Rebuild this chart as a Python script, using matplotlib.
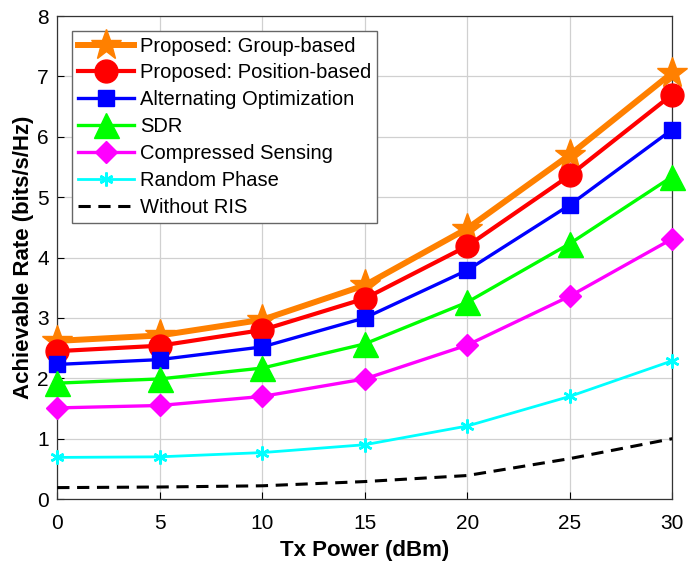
import matplotlib
matplotlib.use("Agg")
import matplotlib.pyplot as plt

plt.rcParams['font.family'] = ['Liberation Sans', 'DejaVu Sans']

tx_power = [0, 5, 10, 15, 20, 25, 30]
group_based = [2.62, 2.71, 2.97, 3.54, 4.48, 5.70, 7.06]
position_based = [2.45, 2.54, 2.80, 3.32, 4.19, 5.36, 6.70]
alt_opt = [2.23, 2.31, 2.52, 3.00, 3.79, 4.87, 6.12]
sdr = [1.92, 1.99, 2.17, 2.57, 3.26, 4.23, 5.34]
compressed = [1.51, 1.55, 1.70, 1.99, 2.55, 3.36, 4.31]
random_phase = [0.69, 0.70, 0.77, 0.90, 1.21, 1.70, 2.29]
without_ris = [0.19, 0.20, 0.22, 0.29, 0.39, 0.67, 1.00]

fig = plt.figure(figsize=(6.98, 5.73), dpi=100)
ax = fig.add_axes([0.082, 0.129, 0.881, 0.843])

ax.plot(tx_power, group_based, '-*', color='#FF8000', lw=4.3, ms=23, clip_on=False,
        label='Proposed: Group-based', zorder=3)
ax.plot(tx_power, position_based, '-o', color='#FF0000', lw=3.0, ms=16.5, clip_on=False,
        label='Proposed: Position-based', zorder=3)
ax.plot(tx_power, alt_opt, '-s', color='#0000FF', lw=2.4, ms=12, clip_on=False,
        label='Alternating Optimization', zorder=3)
ax.plot(tx_power, sdr, '-^', color='#00FF00', lw=2.4, ms=18, clip_on=False,
        label='SDR', zorder=3)
ax.plot(tx_power, compressed, '-D', color='#FF00FF', lw=2.4, ms=11.5, clip_on=False,
        label='Compressed Sensing', zorder=3)
ax.plot(tx_power, random_phase, color='#00FFFF', lw=2, ms=10, markeredgewidth=1.8,
        marker=(6, 2, 0), clip_on=False, label='Random Phase', zorder=3)
ax.plot(tx_power, without_ris, '--', color='black', lw=2.2, dashes=(4, 2.5),
        label='Without RIS', zorder=3)

ax.set_xlim(0, 30)
ax.set_ylim(0, 8)
ax.set_xticks(tx_power)
ax.set_yticks(range(0, 9))
ax.tick_params(direction='in', labelsize=15, length=5, top=False, right=False)
ax.tick_params(axis='x', pad=11)
ax.tick_params(axis='y', pad=6)
ax.grid(True, color='#D0D0D0', lw=0.9)
ax.set_axisbelow(True)
for s in ax.spines.values():
    s.set_color('#333333')
    s.set_linewidth(0.9)

ax.set_xlabel('Tx Power (dBm)', fontsize=16, fontweight='bold', labelpad=5)
ax.set_ylabel('Achievable Rate (bits/s/Hz)', fontsize=16, fontweight='bold', labelpad=2)

leg = ax.legend(loc='upper left', fontsize=14.5, fancybox=False, framealpha=1,
                edgecolor='#666666', handlelength=2.8, borderpad=0.3,
                labelspacing=0.39, handletextpad=0.3, borderaxespad=0.72)
leg.get_frame().set_linewidth(1.0)

fig.savefig('out.png', dpi=100)
